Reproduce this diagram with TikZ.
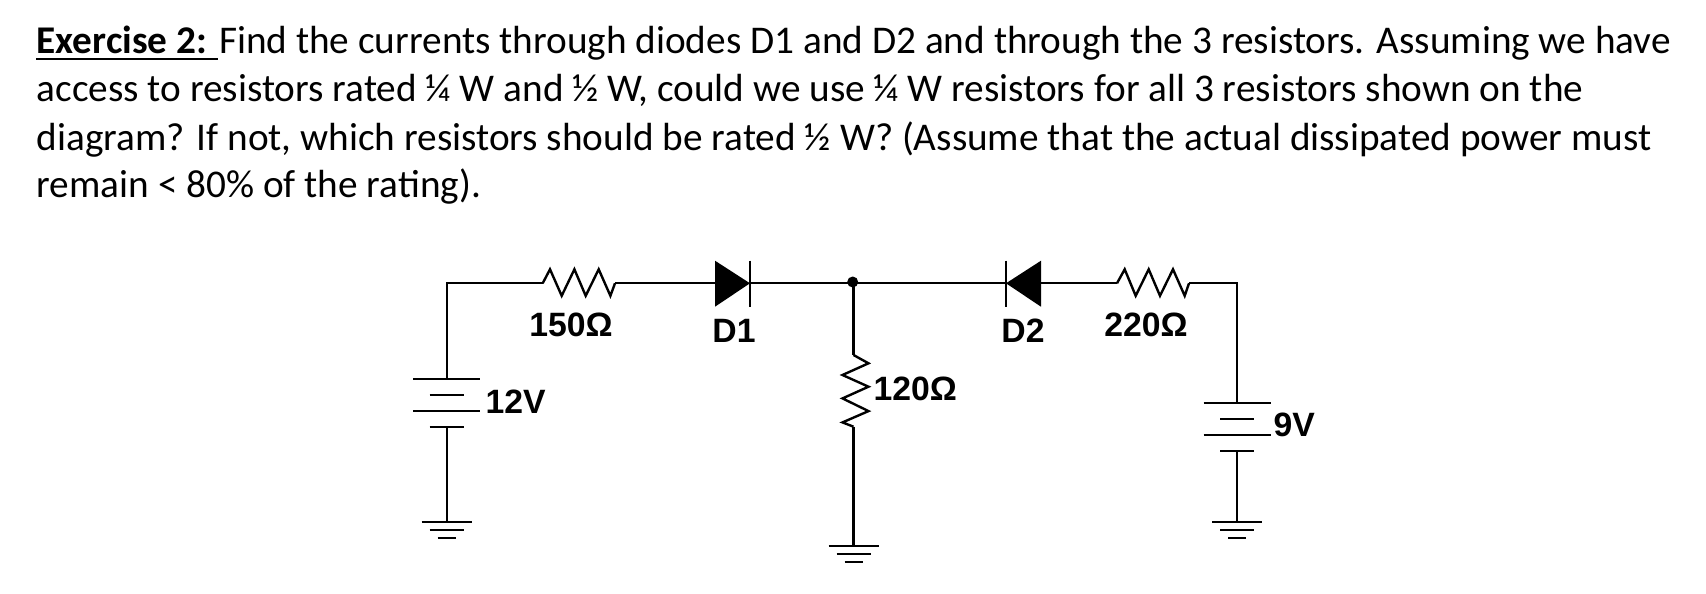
\documentclass[tikz,border=0pt]{standalone}
\usepackage{fontspec}
\setmainfont{Carlito}
\newfontfamily\labelfont{Liberation Sans}
\tikzset{
    textline/.style={anchor=base west,inner sep=0pt,font=\fontsize{11.17pt}{12pt}\selectfont},
    partlabel/.style={inner sep=0pt,font=\labelfont\bfseries\fontsize{9.6pt}{11pt}\selectfont},
    wire/.style={line width=.68pt},
    batplate/.style={line width=.68pt},
}
% ground symbol hung below a named point
\newcommand{\gndsym}[1]{
    \draw[batplate]
    ($(#1)+(-25,0)$)--($(#1)+(25,0)$)
    ($(#1)+(-17,8)$)--($(#1)+(17,8)$)
    ($(#1)+(-9,16)$)--($(#1)+(9,16)$);
}
\usetikzlibrary{calc}
\begin{document}
\begin{tikzpicture}[x=.1mm,y=-.1mm,line join=miter,line cap=butt]
    \useasboundingbox (0,0) rectangle (1706,594);
    % text
    \node[textline] (lineA) at (36,53) {\textbf{Exercise 2:} Find the currents through diodes D1 and D2 and through the 3 resistors. Assuming we have};
    \node[textline] (lineB) at (36,101) {access to resistors rated ¼ W and ½ W, could we use ¼ W resistors for all 3 resistors shown on the};
    \node[textline] (lineC) at (36,150) {diagram? If not, which resistors should be rated ½ W? (Assume that the actual dissipated power must};
    \node[textline] (lineD) at (36,197) {remain < 80\% of the rating).};
    \coordinate (ulA) at (36,59);
    \coordinate (ulB) at (218,59);
    \draw[line width=.8pt] (ulA)--(ulB);
    % corners and terminals
    \coordinate (cornerL) at (446.7,283.3);
    \coordinate (cornerR) at (1237,283.3);
    \coordinate (rA) at (542.7,283.3);
    \coordinate (rB) at (615,283.3);
    \coordinate (dA) at (715,283.3);
    \coordinate (dB) at (750,283.3);
    \coordinate (jn) at (853.5,283.3);
    \coordinate (eA) at (1006,283.3);
    \coordinate (eB) at (1041,283.3);
    \coordinate (sA) at (1117,283.3);
    \coordinate (sB) at (1189,283.3);
    \coordinate (tA) at (853.5,355);
    \coordinate (tB) at (853.5,426.7);
    \coordinate (gndM) at (853.5,546);
    \coordinate (batL) at (446.7,379);
    \coordinate (batLb) at (446.7,427);
    \coordinate (gndL) at (446.7,522.3);
    \coordinate (batR) at (1237,403.3);
    \coordinate (batRb) at (1237,451);
    \coordinate (gndR) at (1237,522.3);
    % wires
    \draw[wire,line join=miter] (batL)--(cornerL)--(rA) (rB)--(dA) (dB)--(jn)--(eA) (eB)--(sA) (sB)--(cornerR)--(batR);
    \draw[wire] (jn)--(tA) (tB)--(gndM) (batLb)--(gndL) (batRb)--(gndR);
    \fill (852.7,282) circle(5.5);
    % resistors
    \draw[wire] (rA)--++(7.3,-14)--++(11.7,26.5)--++(12.7,-26.5)--++(11.3,26.5)--++(13,-26.5)--++(11.7,26.5)--(rB);
    \draw[wire] (sA)--++(7.7,-14)--++(11,26.5)--++(13,-26.5)--++(11.3,26.5)--++(13,-26.5)--++(11.7,26.5)--(sB);
    \draw[wire] (tA)--++(15,8.3)--++(-26,11.7)--++(26,11.7)--++(-26,11.7)--++(26,12.7)--++(-26,11.3)--(tB);
    % diodes
    \fill (dA)++(0,-22.6) -- (dB) -- ++(-35,23.4) -- cycle;
    \draw[wire] ($(dB)+(0,-22.6)$)--($(dB)+(0,23.4)$);
    \fill (eB)++(0,-22.6) -- (eA) -- ++(35,23.4) -- cycle;
    \draw[wire] ($(eA)+(0,-22.6)$)--($(eA)+(0,23.4)$);
    % batteries
    \draw[batplate]
    ($(batL)+(-33.5,0)$)--($(batL)+(33.5,0)$)
    ($(batL)+(-17,16)$)--($(batL)+(17,16)$)
    ($(batL)+(-33.5,32)$)--($(batL)+(33.5,32)$)
    ($(batLb)+(-17,0)$)--($(batLb)+(17,0)$);
    \draw[batplate]
    ($(batR)+(-33.5,0)$)--($(batR)+(33.5,0)$)
    ($(batR)+(-17,16)$)--($(batR)+(17,16)$)
    ($(batR)+(-33.5,32)$)--($(batR)+(33.5,32)$)
    ($(batRb)+(-17,0)$)--($(batRb)+(17,0)$);
    \gndsym{gndL}
    \gndsym{gndM}
    \gndsym{gndR}
    % labels
    \node[partlabel] (lblRa) at (571,325) {150Ω};
    \node[partlabel] (lblDa) at (734,331) {D1};
    \node[partlabel] (lblDb) at (1023,331) {D2};
    \node[partlabel] (lblRb) at (1146,325) {220Ω};
    \node[partlabel,anchor=west] (lblRc) at (873,389) {120Ω};
    \node[partlabel,anchor=west] (lblVa) at (485,402) {12V};
    \node[partlabel,anchor=west] (lblVb) at (1273,425) {9V};
\end{tikzpicture}
\end{document}
